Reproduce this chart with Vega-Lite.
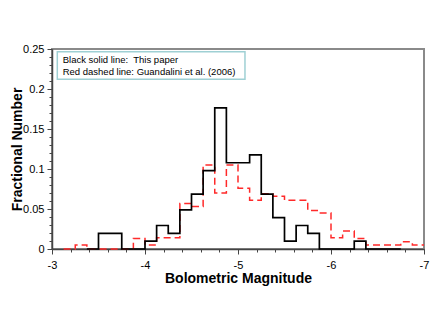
{
  "$schema": "https://vega.github.io/schema/vega-lite/v6.json",
  "width": 372,
  "height": 200,
  "autosize": "none",
  "padding": {"left": 52, "top": 49, "right": 12, "bottom": 78},
  "background": "white",
  "config": {
    "view": {"stroke": "#8a8a8a", "strokeWidth": 2},
    "font": "Liberation Sans",
    "axis": {
      "grid": false,
      "domainColor": "#444444",
      "domainWidth": 1.5,
      "tickColor": "#444444",
      "tickWidth": 1,
      "labelFont": "Liberation Sans",
      "labelFontSize": 11,
      "labelColor": "#000000",
      "titleFont": "Liberation Sans",
      "titleFontSize": 14,
      "titleFontWeight": "bold",
      "titleColor": "#000000",
      "labelOverlap": false,
      "labelFlush": false
    }
  },
  "datasets": {
    "black": [
      {"m": -3.375, "f": 0},
      {"m": -3.5, "f": 0.0196},
      {"m": -3.625, "f": 0.0196},
      {"m": -3.75, "f": 0},
      {"m": -3.875, "f": 0},
      {"m": -4.0, "f": 0.0098},
      {"m": -4.125, "f": 0.0294},
      {"m": -4.25, "f": 0.0196},
      {"m": -4.375, "f": 0.049},
      {"m": -4.5, "f": 0.0686},
      {"m": -4.625, "f": 0.098},
      {"m": -4.75, "f": 0.1765},
      {"m": -4.875, "f": 0.1078},
      {"m": -5.0, "f": 0.1078},
      {"m": -5.125, "f": 0.1176},
      {"m": -5.25, "f": 0.0686},
      {"m": -5.375, "f": 0.0392},
      {"m": -5.5, "f": 0.0098},
      {"m": -5.625, "f": 0.0294},
      {"m": -5.75, "f": 0.0196},
      {"m": -5.875, "f": 0},
      {"m": -6.0, "f": 0},
      {"m": -6.125, "f": 0},
      {"m": -6.25, "f": 0.0098},
      {"m": -6.375, "f": 0},
      {"m": -6.5, "f": 0},
      {"m": -6.625, "f": 0},
      {"m": -6.75, "f": 0}
    ],
    "red": [
      {"m": -3.125, "f": 0},
      {"m": -3.25, "f": 0.005},
      {"m": -3.375, "f": 0},
      {"m": -3.5, "f": 0},
      {"m": -3.625, "f": 0},
      {"m": -3.75, "f": 0},
      {"m": -3.875, "f": 0.013},
      {"m": -4.0, "f": 0.005},
      {"m": -4.125, "f": 0.014},
      {"m": -4.25, "f": 0.014},
      {"m": -4.375, "f": 0.057},
      {"m": -4.5, "f": 0.053},
      {"m": -4.625, "f": 0.105},
      {"m": -4.75, "f": 0.07},
      {"m": -4.875, "f": 0.105},
      {"m": -5.0, "f": 0.076},
      {"m": -5.125, "f": 0.061},
      {"m": -5.25, "f": 0.069},
      {"m": -5.375, "f": 0.066},
      {"m": -5.5, "f": 0.061},
      {"m": -5.625, "f": 0.061},
      {"m": -5.75, "f": 0.048},
      {"m": -5.875, "f": 0.045},
      {"m": -6.0, "f": 0.014},
      {"m": -6.125, "f": 0.0225},
      {"m": -6.25, "f": 0.013},
      {"m": -6.375, "f": 0.005},
      {"m": -6.5, "f": 0.005},
      {"m": -6.625, "f": 0.005},
      {"m": -6.75, "f": 0.009},
      {"m": -6.875, "f": 0.005},
      {"m": -7.0, "f": 0.005}
    ],
    "box": [
      {"m": -3.057, "m2": -5.075, "f": 0.2466, "f2": 0.2121}
    ],
    "legend": [
      {"m": -3.115, "f": 0.2362, "label": "Black solid line:\u00a0 This paper"},
      {"m": -3.115, "f": 0.2217, "label": "Red dashed line: Guandalini et al. (2006)"}
    ]
  },
  "encoding": {
    "x": {
      "field": "m",
      "type": "quantitative",
      "scale": {"domain": [-7, -3], "reverse": true, "nice": false, "zero": false},
      "axis": {
        "title": "Bolometric Magnitude",
        "values": [-3, -3.2, -3.4, -3.6, -3.8, -4, -4.2, -4.4, -4.6, -4.8, -5, -5.2, -5.4, -5.6, -5.8, -6, -6.2, -6.4, -6.6, -6.8, -7],
        "tickSize": {"condition": {"test": "abs(datum.value - round(datum.value)) < 0.000001", "value": 5}, "value": 3},
        "labelExpr": "abs(datum.value - round(datum.value)) < 0.000001 ? '-' + abs(round(datum.value)) : ''",
        "labelPadding": 5,
        "titlePadding": 1
      }
    },
    "y": {
      "field": "f",
      "type": "quantitative",
      "scale": {"domain": [0, 0.25], "nice": false},
      "axis": {
        "title": "Fractional Number",
        "values": [0, 0.01, 0.02, 0.03, 0.04, 0.05, 0.06, 0.07, 0.08, 0.09, 0.1, 0.11, 0.12, 0.13, 0.14, 0.15, 0.16, 0.17, 0.18, 0.19, 0.2, 0.21, 0.22, 0.23, 0.24, 0.25],
        "tickSize": {"condition": {"test": "round(datum.value * 100) % 5 === 0", "value": 5}, "value": 3},
        "labelExpr": "round(datum.value * 100) % 5 === 0 ? toString(round(datum.value * 100) / 100) : ''",
        "labelPadding": 3,
        "titlePadding": -2
      }
    }
  },
  "layer": [
    {
      "data": {"name": "box"},
      "mark": {"type": "rect", "fill": "white", "stroke": "#9fd0d4", "strokeWidth": 1.5},
      "encoding": {
        "x2": {"field": "m2"},
        "y2": {"field": "f2"}
      }
    },
    {
      "data": {"name": "red"},
      "mark": {"type": "line", "interpolate": "step-after", "color": "#ff2a2a", "strokeWidth": 1.5, "strokeDash": [7, 4]},
      "encoding": {
        "order": {"field": "m", "sort": "descending"}
      }
    },
    {
      "data": {"name": "black"},
      "mark": {"type": "line", "interpolate": "step-after", "color": "#000000", "strokeWidth": 1.7},
      "encoding": {
        "order": {"field": "m", "sort": "descending"}
      }
    },
    {
      "data": {"name": "legend"},
      "mark": {"type": "text", "align": "left", "baseline": "middle", "font": "Liberation Sans", "fontSize": 9.5, "color": "#000000"},
      "encoding": {
        "text": {"field": "label"}
      }
    }
  ]
}
